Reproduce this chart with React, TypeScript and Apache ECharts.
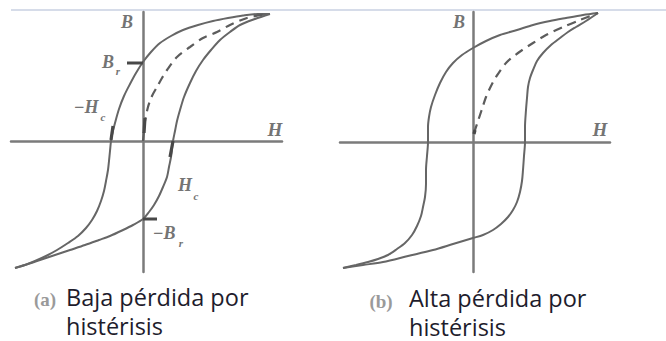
import React, { useEffect, useRef } from "react";
import * as echarts from "echarts";

type Pt = [number, number];

// ---- Panel (a): low hysteresis loss (H, B in arbitrary units) ----
const lowDescending: Pt[] = [
  [127, 127], [115, 127], [100, 125.5], [85, 123], [70, 120], [55, 116],
  [40, 111], [28, 105], [17, 98], [8, 89], [0, 79], [-7, 68], [-13, 57],
  [-19, 45], [-24, 32], [-28, 18], [-31, 6], [-32, 0], [-33, -10], [-34, -20],
  [-35, -29], [-37, -40], [-39, -50], [-42, -60], [-46, -70], [-51, -79],
  [-57, -87], [-65, -95], [-75, -102], [-86, -109], [-97, -115], [-108, -120],
  [-118, -124], [-128, -127],
];
const lowAscending: Pt[] = [
  [-128, -127], [-115, -123], [-103, -119], [-88, -114], [-73, -109],
  [-58, -104], [-44, -99], [-33, -95], [-20, -89], [-10, -84], [0, -78],
  [6, -71], [11, -64], [16, -55], [20, -46], [24, -36], [26, -26], [28, -16],
  [29, -8], [30, 0], [32, 10], [34, 20], [37, 31], [41, 44], [47, 58],
  [53, 70], [60, 81], [68, 91], [77, 101], [87, 109], [97, 116], [112, 122],
  [127, 127],
];
const lowInitial: Pt[] = [
  [0, 0], [1, 10], [2, 20], [5, 34], [9, 45], [14, 54], [19, 63], [24, 71],
  [34, 84], [47, 94], [60, 103], [74, 109], [87, 116], [104, 123], [124, 127],
];
const lowRemanence = 78; // B_r
// direction marks drawn over the curves
const lowArrowDown: Pt[] = [[-30, 15], [-32, 1]];
const lowArrowUp: Pt[] = [[27, -16], [30, 0]];
const lowArrowStart: Pt[] = [[1, 8], [2, 23]];

// ---- Panel (b): high hysteresis loss ----
const highDescending: Pt[] = [
  [125, 129], [110, 127], [93, 124], [77, 121], [60, 117], [44, 112],
  [27, 107], [13, 101], [0, 94], [-11, 87], [-20, 79], [-27, 70], [-33, 59],
  [-38, 47], [-42, 35], [-44, 25], [-45, 15], [-45, 5], [-45, 0], [-46, -14],
  [-47, -28], [-47, -42], [-48, -55], [-50, -65], [-52, -74], [-56, -84],
  [-61, -93], [-68, -101], [-76, -107], [-85, -113], [-95, -117],
  [-105, -120], [-117, -123], [-130, -126],
];
const highAscending: Pt[] = [
  [-130, -126], [-110, -123], [-90, -120], [-65, -114], [-40, -108],
  [-20, -102], [0, -96], [10, -93], [20, -88], [28, -82], [35, -75],
  [40, -68], [44, -60], [47, -50], [49, -39], [50, -28], [51, -14], [52, 0],
  [52, 15], [53, 32], [54, 44], [55, 55], [57, 64], [60, 72], [64, 81],
  [70, 89], [78, 97], [87, 104], [95, 110], [103, 115], [113, 121],
  [125, 129],
];
const highInitial: Pt[] = [
  [1, 9], [4, 18], [7, 27], [10, 36], [13, 45], [18, 56], [23, 65], [33, 79],
  [45, 89], [60, 99], [73, 107], [90, 115], [107, 122], [125, 129],
];
const highArrowStart: Pt[] = [[1, 8], [2, 12]];

// axis ranges of both panels
const rangeLowH: Pt = [-132, 139];
const rangeLowB: Pt = [-131, 129];
const rangeHighH: Pt = [-133, 137];
const rangeHighB: Pt = [-130, 130];

const CURVE = "#666666";
const AXIS = "#7b7b7b";
const LABEL = "#747474";
const SERIF = "'Liberation Serif', 'Times New Roman', serif";
const SANS = "'Open Sans', 'Noto Sans', sans-serif";
const CAPTION = "#1e1c2c";

function axisPair(grid: number, h: Pt, b: Pt) {
  const common = {
    type: "value" as const,
    gridIndex: grid,
    axisTick: { show: false },
    axisLabel: { show: false },
    splitLine: { show: false },
    axisLine: { onZero: true, lineStyle: { color: AXIS, width: 2.5 } },
  };
  return {
    x: { ...common, min: h[0], max: h[1] },
    y: { ...common, min: b[0], max: b[1] },
  };
}

function curve(idx: number, data: Pt[], dashed = false) {
  return {
    type: "line" as const,
    xAxisIndex: idx,
    yAxisIndex: idx,
    data,
    showSymbol: false,
    smooth: 0.3,
    silent: true,
    lineStyle: {
      color: dashed ? "#5c5c5c" : CURVE,
      width: dashed ? 2.2 : 2,
      type: dashed ? [9, 6] : "solid",
      cap: "butt",
    },
  };
}

function mark(idx: number, data: Pt[]) {
  return {
    type: "line" as const,
    xAxisIndex: idx,
    yAxisIndex: idx,
    data,
    showSymbol: false,
    silent: true,
    z: 3,
    lineStyle: { color: "#484848", width: 3.2 },
  };
}

function italic(text: string, x: number, y: number, size = 18) {
  return {
    type: "text",
    x,
    y,
    style: {
      text,
      fill: LABEL,
      font: `italic bold ${size}px ${SERIF}`,
      align: "center",
      verticalAlign: "middle",
    },
  };
}

function caption(text: string, x: number, y: number) {
  return {
    type: "text",
    x,
    y,
    style: {
      text,
      fill: CAPTION,
      font: `23.5px ${SANS}`,
      lineHeight: 29,
      align: "left",
      verticalAlign: "top",
    },
  };
}

function tag(text: string, x: number, y: number) {
  return {
    type: "text",
    x,
    y,
    style: {
      text,
      fill: "#9a9a9a",
      font: `bold 19px ${SERIF}`,
      align: "center",
      verticalAlign: "middle",
    },
  };
}

export default function App() {
  const ref = useRef<HTMLDivElement>(null);

  useEffect(() => {
    if (!ref.current) return;
    const chart = echarts.init(ref.current, undefined, { renderer: "svg" });
    const a = axisPair(0, rangeLowH, rangeLowB);
    const b = axisPair(1, rangeHighH, rangeHighB);

    chart.setOption({
      animation: false,
      backgroundColor: "#ffffff",
      grid: [
        { left: 11, top: 12, width: 271, height: 260 },
        { left: 340, top: 12, width: 270, height: 260 },
      ],
      xAxis: [a.x, b.x],
      yAxis: [a.y, b.y],
      series: [
        curve(0, lowDescending),
        curve(0, lowAscending),
        curve(0, lowInitial, true),
        mark(0, [[-16, lowRemanence], [0, lowRemanence]]),
        mark(0, [[0, -lowRemanence], [14, -lowRemanence]]),
        mark(0, lowArrowDown),
        mark(0, lowArrowUp),
        mark(0, lowArrowStart),
        curve(1, highDescending),
        curve(1, highAscending),
        curve(1, highInitial, true),
        mark(1, highArrowStart),
      ],
      graphic: [
        {
          type: "line",
          shape: { x1: 11, y1: 10, x2: 666, y2: 10 },
          style: { stroke: "#c9d1e2", lineWidth: 1.5 },
        },
        // panel (a) labels
        italic("B", 127, 22),
        italic("H", 275, 129, 19),
        italic("B", 108, 62),
        italic("r", 118, 71, 11),
        italic("\u2212H", 86, 107),
        italic("c", 103, 117, 11),
        italic("H", 185, 185),
        italic("c", 196, 196, 11),
        italic("\u2212B", 164, 233),
        italic("r", 181, 243, 11),
        // panel (b) labels
        italic("B", 459, 22),
        italic("H", 600, 129, 19),
        // captions
        tag("(a)", 45, 299),
        caption("Baja pérdida por\nhistérisis", 66, 282),
        tag("(b)", 381, 301),
        caption("Alta pérdida por\nhistérisis", 409, 283),
      ],
    });

    return () => chart.dispose();
  }, []);

  return (
    <div
      ref={ref}
      style={{ position: "fixed", left: 0, top: 0, width: 666, height: 341 }}
    />
  );
}
